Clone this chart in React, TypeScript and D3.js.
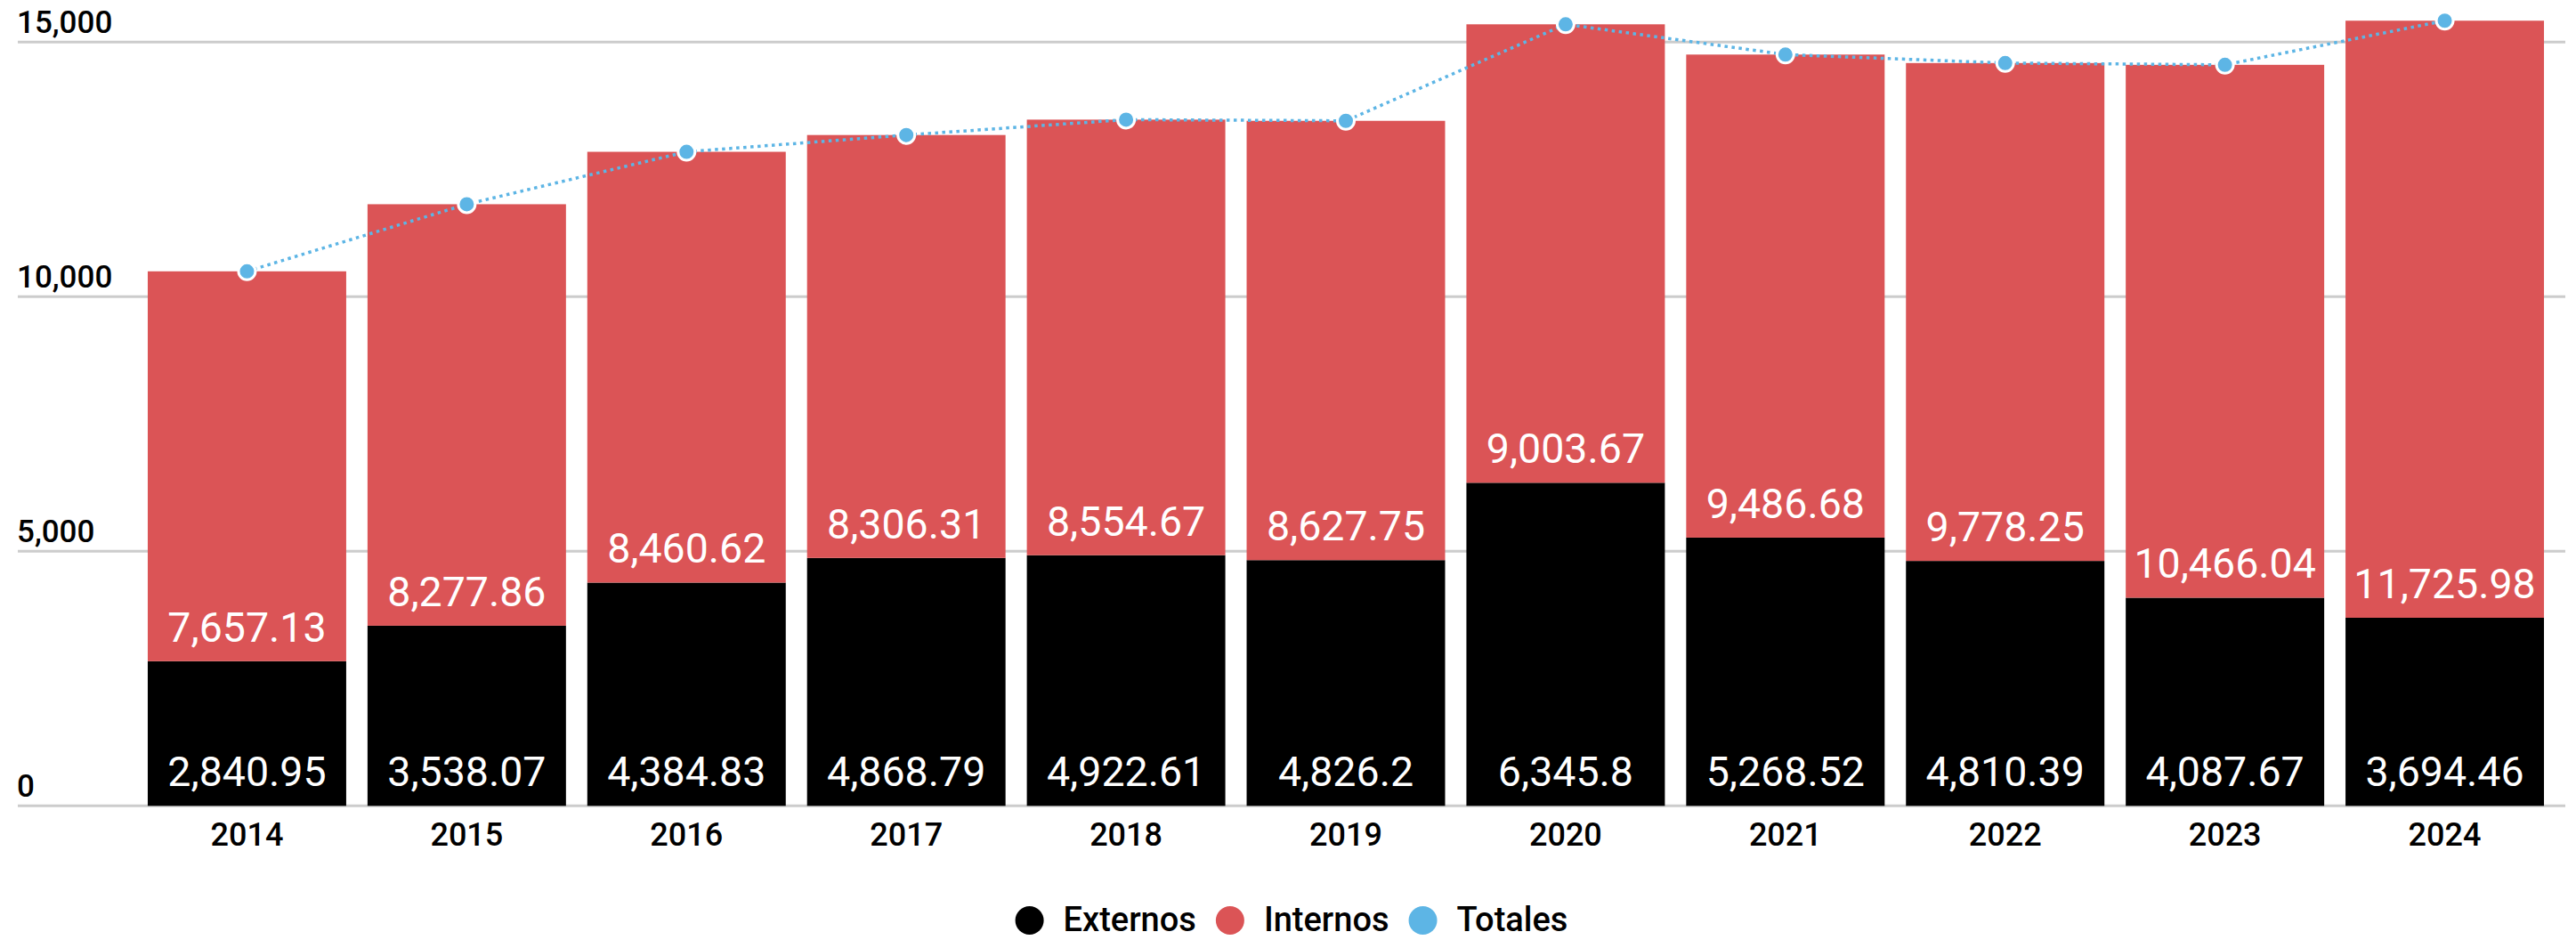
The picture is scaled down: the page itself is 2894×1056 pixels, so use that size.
import React, { useEffect, useRef } from "react";
import * as d3 from "d3";

const years = ["2014", "2015", "2016", "2017", "2018", "2019", "2020", "2021", "2022", "2023", "2024"];
const externos = [2840.95, 3538.07, 4384.83, 4868.79, 4922.61, 4826.2, 6345.8, 5268.52, 4810.39, 4087.67, 3694.46];
const internos = [7657.13, 8277.86, 8460.62, 8306.31, 8554.67, 8627.75, 9003.67, 9486.68, 9778.25, 10466.04, 11725.98];
const yTicks = [0, 5000, 10000, 15000];
const seriesNames = ["Externos", "Internos", "Totales"];
const seriesColors = ["#000000", "#DB5456", "#5DB5E5"];

const W = 2894;
const H = 1056;
const FONT = "Roboto, 'Noto Sans', sans-serif";

export default function App() {
  const ref = useRef<SVGSVGElement | null>(null);

  useEffect(() => {
    document.body.style.margin = "0";
    const svg = d3.select(ref.current);
    svg.selectAll("*").remove();

    const x = d3.scaleBand<string>().domain(years).range([154, 2870]).paddingInner(0.097).paddingOuter(0.0485);
    const y = d3.scaleLinear().domain([0, 15000]).range([905.3, 47.3]);
    const fmt = d3.format(",");

    const totals = years.map((_, i) => externos[i] + internos[i]);

    // grid
    const grid = svg.append("g");
    grid.selectAll("line").data(yTicks).join("line")
      .attr("x1", 20).attr("x2", 2882)
      .attr("y1", (d) => y(d)).attr("y2", (d) => y(d))
      .attr("stroke", "#cccccc").attr("stroke-width", 3);
    grid.selectAll("text").data(yTicks).join("text")
      .attr("x", 19).attr("y", (d) => y(d) - 10)
      .attr("font-family", FONT).attr("font-size", 35).attr("font-weight", 500).attr("fill", "#000")
      .text((d) => fmt(d));

    // bars
    const bars = svg.append("g");
    bars.selectAll("rect.ext").data(years).join("rect")
      .attr("class", "ext")
      .attr("x", (d) => x(d)!).attr("width", x.bandwidth())
      .attr("y", (_, i) => y(externos[i]))
      .attr("height", (_, i) => y(0) - y(externos[i]))
      .attr("fill", seriesColors[0]);
    bars.selectAll("rect.int").data(years).join("rect")
      .attr("class", "int")
      .attr("x", (d) => x(d)!).attr("width", x.bandwidth())
      .attr("y", (_, i) => y(externos[i] + internos[i]))
      .attr("height", (_, i) => y(externos[i]) - y(externos[i] + internos[i]))
      .attr("fill", seriesColors[1]);

    // value labels
    const labels = svg.append("g")
      .attr("font-family", FONT).attr("font-size", 46.5).attr("fill", "#fff").attr("text-anchor", "middle");
    labels.selectAll("text.ext").data(years).join("text")
      .attr("class", "ext")
      .attr("x", (d) => x(d)! + x.bandwidth() / 2)
      .attr("y", () => y(0) - 22)
      .text((_, i) => fmt(externos[i]));
    labels.selectAll("text.int").data(years).join("text")
      .attr("class", "int")
      .attr("x", (d) => x(d)! + x.bandwidth() / 2)
      .attr("y", (_, i) => y(externos[i]) - 22)
      .text((_, i) => fmt(internos[i]));

    // x axis labels
    svg.append("g").selectAll("text").data(years).join("text")
      .attr("x", (d) => x(d)! + x.bandwidth() / 2)
      .attr("y", 950)
      .attr("text-anchor", "middle")
      .attr("font-family", FONT).attr("font-size", 36).attr("font-weight", 500).attr("fill", "#000")
      .text((d) => d);

    // totals line
    const line = d3.line<number>()
      .x((_, i) => x(years[i])! + x.bandwidth() / 2)
      .y((d) => y(d))
      .curve(d3.curveLinear);
    svg.append("path").datum(totals)
      .attr("d", line)
      .attr("fill", "none")
      .attr("stroke", seriesColors[2])
      .attr("stroke-width", 3.5)
      .attr("stroke-dasharray", "3.5,4.5");
    svg.append("g").selectAll("circle").data(totals).join("circle")
      .attr("cx", (_, i) => x(years[i])! + x.bandwidth() / 2)
      .attr("cy", (d) => y(d))
      .attr("r", 9.5)
      .attr("fill", seriesColors[2])
      .attr("stroke", "#fff").attr("stroke-width", 3);

    // legend
    const legend = svg.append("g");
    const LFS = 38;
    const widths = seriesNames.map((n) => {
      const t = legend.append("text").attr("font-family", FONT).attr("font-size", LFS).attr("font-weight", 500).text(n);
      const w = (t.node() as SVGTextElement).getComputedTextLength();
      t.remove();
      return w;
    });
    const r = 16;
    const gapCircleText = 22;
    const gapTextCircle = 22;
    let total = 0;
    widths.forEach((w, i) => {
      total += 2 * r + gapCircleText + w + (i < widths.length - 1 ? gapTextCircle : 0);
    });
    let cx = W / 2 + 4 - total / 2;
    const ly = 1034;
    seriesNames.forEach((n, i) => {
      legend.append("circle").attr("cx", cx + r).attr("cy", ly).attr("r", r).attr("fill", seriesColors[i]);
      legend.append("text")
        .attr("x", cx + 2 * r + gapCircleText)
        .attr("y", ly + 12)
        .attr("font-family", FONT).attr("font-size", LFS).attr("font-weight", 500).attr("fill", "#000")
        .text(n);
      cx += 2 * r + gapCircleText + widths[i] + gapTextCircle;
    });
  }, []);

  return <svg ref={ref} width={W} height={H} style={{ display: "block" }} />;
}
